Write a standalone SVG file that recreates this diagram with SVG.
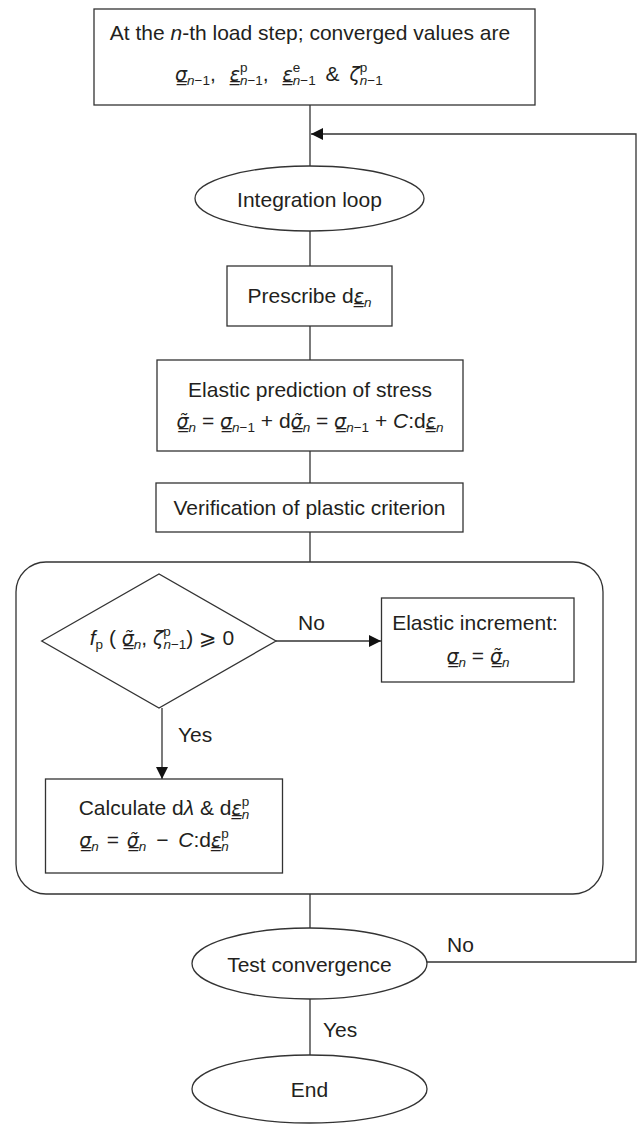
<svg xmlns="http://www.w3.org/2000/svg" width="637" height="1125" viewBox="0 0 637 1125">
<style>
.n{fill:#fff;stroke:#333;stroke-width:1.3}
.e{fill:none;stroke:#333;stroke-width:1.3}
.t{font-family:"Liberation Sans","DejaVu Sans",Arial,sans-serif;font-size:21px;fill:#231f20}
.c{text-anchor:middle}
.i{font-style:italic}
.s{font-size:13.5px}
.g{font-family:"DejaVu Sans",sans-serif;font-style:oblique;font-size:19px}
</style>
<defs>
<marker id="ah" markerUnits="userSpaceOnUse" markerWidth="14" markerHeight="12" refX="12" refY="6" orient="auto">
<path d="M0,0 L12,6 L0,12 Z" fill="#111"/>
</marker>
</defs>
<rect width="637" height="1125" fill="#fff"/>
<g id="connectors">
<line class="e" x1="310" y1="105" x2="310" y2="166"/>
<line class="e" x1="310" y1="231" x2="310" y2="266"/>
<line class="e" x1="310" y1="326" x2="310" y2="360"/>
<line class="e" x1="310" y1="451" x2="310" y2="483"/>
<line class="e" x1="310" y1="532" x2="310" y2="562"/>
<line class="e" x1="276" y1="641" x2="381" y2="641" marker-end="url(#ah)"/>
<line class="e" x1="162" y1="708" x2="162" y2="779" marker-end="url(#ah)"/>
<line class="e" x1="310" y1="894" x2="310" y2="928"/>
<polyline class="e" points="427,962 636,962 636,134 311,134" marker-end="url(#ah)"/>
<line class="e" x1="310" y1="999" x2="310" y2="1055"/>
<text class="t" x="298" y="630">No</text>
<text class="t" x="178" y="742">Yes</text>
<text class="t" x="447" y="952">No</text>
<text class="t" x="323" y="1037">Yes</text>
</g>
<g id="start">
<rect class="n" x="94" y="9" width="441" height="96"/>
<text class="t c" x="310" y="40">At the <tspan class="i">n</tspan>-th load step; converged values are</text>
<text class="t" x="175" y="81"><tspan class="g">σ̳</tspan><tspan class="s" dy="4"><tspan class="i">n</tspan>−1</tspan><tspan dy="-4">, </tspan><tspan class="g" dx="8">ε̳</tspan><tspan class="s" dy="-9">p</tspan><tspan class="s" dx="-7.5" dy="13"><tspan class="i">n</tspan>−1</tspan><tspan dy="-4">, </tspan><tspan class="g" dx="8">ε̳</tspan><tspan class="s" dy="-9">e</tspan><tspan class="s" dx="-7.5" dy="13"><tspan class="i">n</tspan>−1</tspan><tspan dx="4" dy="-4"> &amp; </tspan><tspan class="g" dx="4">ζ</tspan><tspan class="s" dy="-9">p</tspan><tspan class="s" dx="-7.5" dy="13"><tspan class="i">n</tspan>−1</tspan></text>
</g>
<g id="integration-loop">
<ellipse class="n" cx="309.5" cy="198.5" rx="114.5" ry="32.5"/>
<text class="t c" x="309.5" y="207">Integration loop</text>
</g>
<g id="prescribe">
<rect class="n" x="227" y="266" width="165" height="60"/>
<text class="t c" x="309.5" y="303">Prescribe d<tspan class="g">ε̳</tspan><tspan class="s i" dy="4">n</tspan></text>
</g>
<g id="elastic-prediction">
<rect class="n" x="157" y="360" width="306" height="91"/>
<text class="t c" x="310" y="397">Elastic prediction of stress</text>
<text class="t c" x="310" y="428"><tspan class="g">σ̳̃</tspan><tspan class="s i" dy="4">n</tspan><tspan dy="-4"> = </tspan><tspan class="g">σ̳</tspan><tspan class="s" dy="4"><tspan class="i">n</tspan>−1</tspan><tspan dy="-4"> + d</tspan><tspan class="g">σ̳̃</tspan><tspan class="s i" dy="4">n</tspan><tspan dy="-4"> = </tspan><tspan class="g">σ̳</tspan><tspan class="s" dy="4"><tspan class="i">n</tspan>−1</tspan><tspan dy="-4"> + </tspan><tspan class="i">C</tspan>:d<tspan class="g">ε̳</tspan><tspan class="s i" dy="4">n</tspan></text>
</g>
<g id="verification">
<rect class="n" x="156" y="483" width="307" height="49"/>
<text class="t c" x="309.5" y="515">Verification of plastic criterion</text>
</g>
<g id="return-mapping">
<rect class="e" x="16" y="562" width="587" height="332" rx="30" ry="30"/>
</g>
<g id="criterion">
<polygon class="n" points="41.7,641 159,574 276,641 159,708"/>
<text class="t c" x="162" y="645"><tspan class="i">f</tspan><tspan class="s" dy="4">p</tspan><tspan dy="-4"> ( </tspan><tspan class="g">σ̳̃</tspan><tspan class="s i" dy="4">n</tspan><tspan dy="-4">, </tspan><tspan class="g">ζ</tspan><tspan class="s" dy="-9">p</tspan><tspan class="s" dx="-7.5" dy="13"><tspan class="i">n</tspan>−1</tspan><tspan dy="-4">) ⩾ 0</tspan></text>
</g>
<g id="elastic-increment">
<rect class="n" x="381.5" y="598" width="192.5" height="84"/>
<text class="t c" x="475" y="630">Elastic increment:</text>
<text class="t c" x="478" y="663"><tspan class="g">σ̳</tspan><tspan class="s i" dy="4">n</tspan><tspan dy="-4"> = </tspan><tspan class="g">σ̳̃</tspan><tspan class="s i" dy="4">n</tspan></text>
</g>
<g id="plastic-correction">
<rect class="n" x="45.5" y="779" width="237" height="94"/>
<text class="t c" x="164" y="815">Calculate d<tspan class="i">λ</tspan> &amp; d<tspan class="g">ε̳</tspan><tspan class="s" dy="-9">p</tspan><tspan class="s i" dx="-7.5" dy="13">n</tspan></text>
<text class="t c" x="154" y="847"><tspan class="g">σ̳</tspan><tspan class="s i" dy="4">n</tspan><tspan dx="2" dy="-4"> = </tspan><tspan class="g" dx="2">σ̳̃</tspan><tspan class="s i" dy="4">n</tspan><tspan dx="4" dy="-4"> − </tspan><tspan class="i" dx="4">C</tspan>:d<tspan class="g">ε̳</tspan><tspan class="s" dy="-9">p</tspan><tspan class="s i" dx="-7.5" dy="13">n</tspan></text>
</g>
<g id="test-convergence">
<ellipse class="n" cx="309.5" cy="963.5" rx="117.5" ry="35.5"/>
<text class="t c" x="309.5" y="972">Test convergence</text>
</g>
<g id="end">
<ellipse class="n" cx="309.5" cy="1089" rx="117.5" ry="34"/>
<text class="t c" x="309.5" y="1097">End</text>
</g>
</svg>
